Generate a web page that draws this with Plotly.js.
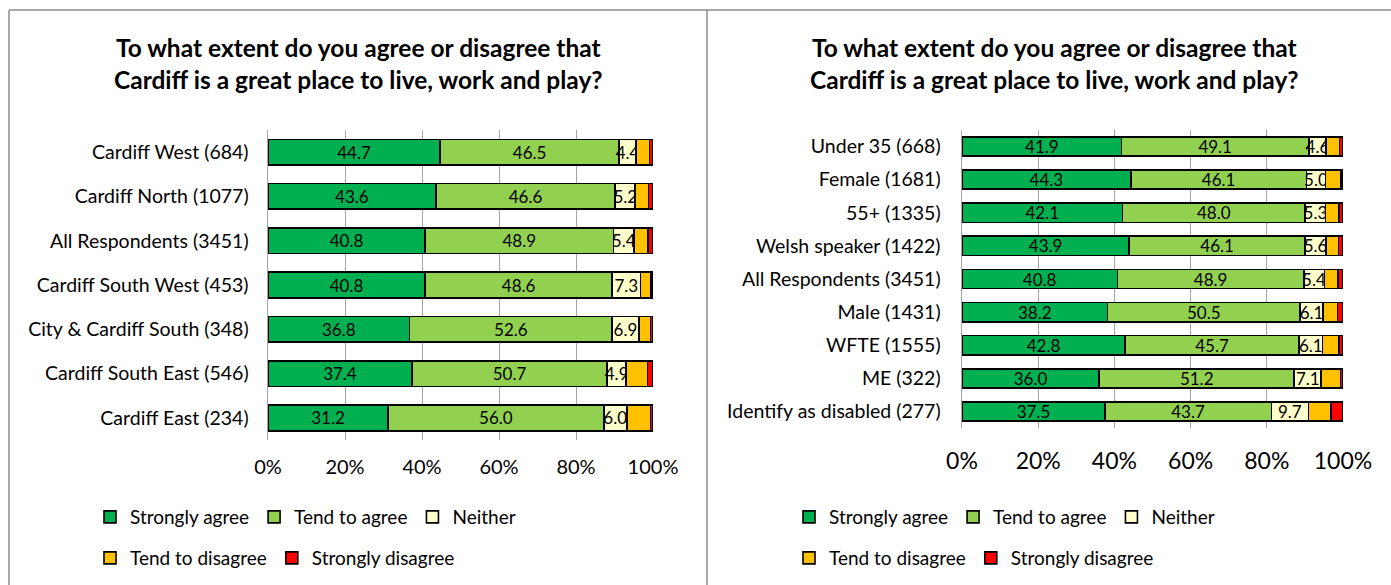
<!DOCTYPE html>
<html>
<head>
<meta charset="utf-8">
<script src="https://cdn.plot.ly/plotly-3.0.1.min.js"></script>
<style>html,body{margin:0;padding:0;background:#fff;}#chart{width:1391px;height:585px;}</style>
</head>
<body>
<div id="chart"></div>
<script>
// ---------- DATA ----------
const chartTitle = "To what extent do you agree or disagree that<br>Cardiff is a great place to live, work and play?";
const seriesNames = ["Strongly agree", "Tend to agree", "Neither", "Tend to disagree", "Strongly disagree"];
const seriesColors = ["#00B050", "#92D050", "#FFFFCC", "#FFC000", "#FF0000"];
const tickValues = [0, 20, 40, 60, 80, 100];
const tickLabels = ["0%", "20%", "40%", "60%", "80%", "100%"];

const areaCategories = ["Cardiff West (684)", "Cardiff North (1077)", "All Respondents (3451)", "Cardiff South West (453)", "City & Cardiff South (348)", "Cardiff South East (546)", "Cardiff East (234)"];
const areaStronglyAgree    = [44.7, 43.6, 40.8, 40.8, 36.8, 37.4, 31.2];
const areaTendToAgree      = [46.5, 46.6, 48.9, 48.6, 52.6, 50.7, 56.0];
const areaNeither          = [4.4, 5.2, 5.4, 7.3, 6.9, 4.9, 6.0];
const areaTendToDisagree   = [3.5, 3.4, 3.6, 2.8, 3.1, 5.6, 6.1];
const areaStronglyDisagree = [0.9, 1.2, 1.3, 0.5, 0.6, 1.4, 0.7];

const groupCategories = ["Under 35 (668)", "Female (1681)", "55+ (1335)", "Welsh speaker (1422)", "All Respondents (3451)", "Male (1431)", "WFTE (1555)", "ME (322)", "Identify as disabled (277)"];
const groupStronglyAgree    = [41.9, 44.3, 42.1, 43.9, 40.8, 38.2, 42.8, 36.0, 37.5];
const groupTendToAgree      = [49.1, 46.1, 48.0, 46.1, 48.9, 50.5, 45.7, 51.2, 43.7];
const groupNeither          = [4.6, 5.0, 5.3, 5.6, 5.4, 6.1, 6.1, 7.1, 9.7];
const groupTendToDisagree   = [3.5, 4.0, 3.5, 3.2, 3.6, 3.8, 4.3, 5.0, 6.0];
const groupStronglyDisagree = [0.9, 0.6, 1.1, 1.2, 1.3, 1.4, 1.1, 0.7, 3.1];

// ---------- LAYOUT HELPERS ----------
const W = 1391, H = 585;
const FONT = "Lato, 'Open Sans', sans-serif";
const px = x => x / W;
const py = y => 1 - y / H;

function makeTraces(cats, seriesList, xa, ya, legA, legB) {
  return seriesList.map((vals, i) => {
    const t = {
      type: "bar", orientation: "h",
      y: cats, x: vals, name: seriesNames[i],
      xaxis: xa, yaxis: ya,
      legend: i < 3 ? legA : legB,
      marker: { color: seriesColors[i], line: { color: "#000000", width: 1.6 } },
      hovertemplate: "%{y}: %{x:.1f}%<extra>" + seriesNames[i] + "</extra>"
    };
    if (i < 3) {
      t.texttemplate = "%{x:.1f}";
      t.textposition = "inside";
      t.insidetextanchor = "middle";
      t.textangle = 0;
      t.constraintext = "none";
      t.insidetextfont = { family: FONT, size: 17, color: "#000000" };
    } else {
      t.textposition = "none";
    }
    return t;
  });
}

const traces = [].concat(
  makeTraces(areaCategories, [areaStronglyAgree, areaTendToAgree, areaNeither, areaTendToDisagree, areaStronglyDisagree], "x", "y", "legend", "legend2"),
  makeTraces(groupCategories, [groupStronglyAgree, groupTendToAgree, groupNeither, groupTendToDisagree, groupStronglyDisagree], "x2", "y2", "legend3", "legend4")
);

function xAxis(x0, x1, anchor, size, standoff) {
  return {
    domain: [px(x0), px(x1)], range: [0, 100], anchor: anchor,
    tickvals: tickValues, ticktext: tickLabels,
    showgrid: true, gridcolor: "#a6a6a6", gridwidth: 1,
    zeroline: false, showline: false, ticks: "",
    ticklabelstandoff: standoff,
    tickfont: { family: FONT, size: size, color: "#000" }, fixedrange: true
  };
}
function yAxis(y0, y1, anchor, standoff) {
  return {
    domain: [py(y1), py(y0)], anchor: anchor, type: "category",
    autorange: "reversed",
    showline: true, linecolor: "#a6a6a6", linewidth: 1.5,
    showgrid: false, zeroline: false, ticks: "",
    ticklabelstandoff: standoff,
    tickfont: { family: FONT, size: 19.5, color: "#000" }, fixedrange: true
  };
}
function legendAt(x, y) {
  return {
    orientation: "h", x: px(x), xanchor: "left", y: py(y), yanchor: "middle",
    font: { family: FONT, size: 19, color: "#000" }, itemwidth: 30,
    bgcolor: "rgba(0,0,0,0)", borderwidth: 0, traceorder: "normal"
  };
}

const layout = {
  width: W, height: H,
  margin: { l: 0, r: 0, t: 0, b: 0 },
  paper_bgcolor: "#ffffff", plot_bgcolor: "#ffffff",
  font: { family: FONT, color: "#000" },
  barmode: "stack", bargap: 0.42,
  showlegend: true,
  xaxis: xAxis(268, 653, "y", 20, 13),
  yaxis: yAxis(130, 440, "x", 14),
  xaxis2: xAxis(962, 1343, "y2", 23, 17),
  yaxis2: yAxis(130, 428, "x2", 16),
  legend: legendAt(90, 517),
  legend2: legendAt(90, 558),
  legend3: legendAt(789, 517),
  legend4: legendAt(789, 558),
  annotations: [
    { xref: "paper", yref: "paper", x: px(358), y: py(63.5), xanchor: "center", yanchor: "middle",
      text: "<b>" + chartTitle + "</b>", showarrow: false, font: { family: FONT, size: 24.5, color: "#000" } },
    { xref: "paper", yref: "paper", x: px(1054), y: py(63.5), xanchor: "center", yanchor: "middle",
      text: "<b>" + chartTitle + "</b>", showarrow: false, font: { family: FONT, size: 24.5, color: "#000" } }
  ],
  shapes: [
    { type: "line", xref: "paper", yref: "paper", x0: px(9), x1: 1, y0: py(10), y1: py(10), line: { color: "#8c8c8c", width: 1.5 } },
    { type: "line", xref: "paper", yref: "paper", x0: px(9), x1: px(9), y0: py(10), y1: 0, line: { color: "#8c8c8c", width: 1.5 } },
    { type: "line", xref: "paper", yref: "paper", x0: px(707), x1: px(707), y0: py(10), y1: 0, line: { color: "#8c8c8c", width: 1.5 } }
  ]
};

Plotly.newPlot("chart", traces, layout, { staticPlot: true, displayModeBar: false });
</script>
</body>
</html>
